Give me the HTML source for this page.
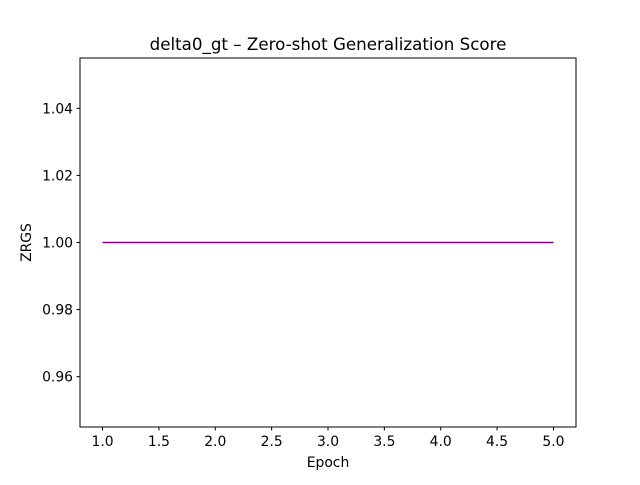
<!DOCTYPE html>
<html><head><meta charset="utf-8"><style>
body{margin:0;background:#fff;font-family:"Liberation Sans","DejaVu Sans",sans-serif;}
svg text{font-family:"DejaVu Sans","Liberation Sans",sans-serif;}
</style></head><body>
<svg id="chart" width="640" height="480" xmlns="http://www.w3.org/2000/svg">
<rect width="640" height="480" fill="#fff"/>
<text x="328" y="50" font-size="16.7" text-anchor="middle">delta0_gt – Zero-shot Generalization Score</text>
<g id="xt"></g>
<g id="yt"></g>
<g id="series"></g>
<rect x="80" y="58" width="496" height="369" fill="none" stroke="#000" stroke-width="1"/>
<text x="328" y="467" font-size="13.9" text-anchor="middle">Epoch</text>
<text x="31" y="242.5" font-size="13.9" text-anchor="middle" transform="rotate(-90 31 242.5)">ZRGS</text>
</svg>
<script>
const epochs=[1,2,3,4,5];
const zrgs=[1.0,1.0,1.0,1.0,1.0];
const xTicks=[1.0,1.5,2.0,2.5,3.0,3.5,4.0,4.5,5.0];
const xTickLabels=["1.0","1.5","2.0","2.5","3.0","3.5","4.0","4.5","5.0"];
const yTicks=[0.96,0.98,1.00,1.02,1.04];
const yTickLabels=["0.96","0.98","1.00","1.02","1.04"];
const NS="http://www.w3.org/2000/svg";
const L=80,R=576,T=58,B=427,x0=0.8,x1=5.2,y0=0.945,y1=1.055;
const sx=v=>L+(v-x0)/(x1-x0)*(R-L);
const sy=v=>B-(v-y0)/(y1-y0)*(B-T);
function mk(t,a,p){const e=document.createElementNS(NS,t);for(const k in a)e.setAttribute(k,a[k]);p.appendChild(e);return e;}
const xt=document.getElementById('xt');
xTicks.forEach((v,i)=>{
 const l=mk('line',{x1:sx(v),x2:sx(v),y1:B,y2:B+3.5,stroke:'#000'},xt);
 
 
 const t=mk('text',{x:sx(v),y:B+19,'font-size':13.9,'text-anchor':'middle'},xt);
 t.textContent=xTickLabels[i];
 
 
});
const yt=document.getElementById('yt');
yTicks.forEach((v,i)=>{
 const l=mk('line',{x1:L-3.5,x2:L,y1:sy(v),y2:sy(v),stroke:'#000'},yt);
 
 
 const t=mk('text',{x:L-7,y:sy(v)+5,'font-size':13.9,'text-anchor':'end'},yt);
 t.textContent=yTickLabels[i];
 
 
});
const pts=epochs.map((e,i)=>sx(e)+','+sy(zrgs[i])).join(' ');
const pl=mk('polyline',{points:pts,fill:'none',stroke:'#800080','stroke-width':1.5},document.getElementById('series'));


</script>
</body></html>
